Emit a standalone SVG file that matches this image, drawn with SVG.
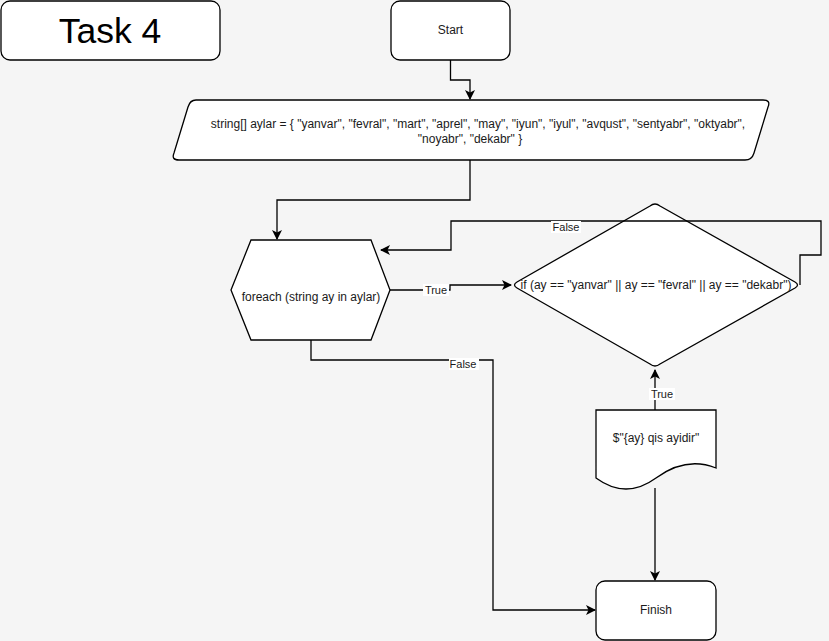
<svg xmlns="http://www.w3.org/2000/svg" width="829" height="641" viewBox="0 0 829 641">
<defs>
<marker id="arr" viewBox="0 0 10 10" refX="9" refY="5" markerWidth="10" markerHeight="10" markerUnits="userSpaceOnUse" orient="auto">
<path d="M0,0 L10,5 L0,10 L2.5,5 Z" fill="#000"/>
</marker>
</defs>
<style>
.shape{fill:#fff;stroke:#000;stroke-width:1.3}
.t{font-family:"Liberation Sans",Arial,sans-serif;font-size:12px;fill:#1a1a1a;text-anchor:middle}
.lbl{font-family:"Liberation Sans",Arial,sans-serif;font-size:11px;fill:#1a1a1a;text-anchor:middle}
.edge{fill:none;stroke:#000;stroke-width:1.3}
.lb{fill:#fff}
</style>
<rect x="0" y="0" width="829" height="641" fill="#f5f5f5"/>

<g id="title">
<rect class="shape" x="1" y="1" width="219" height="59" rx="9"/>
<text x="110" y="43" style="font-family:'Liberation Sans',Arial,sans-serif;font-size:35.5px;fill:#000;text-anchor:middle">Task 4</text>
</g>

<g id="start">
<rect class="shape" x="391" y="1" width="119" height="59" rx="9"/>
<text class="t" x="450.5" y="34">Start</text>
</g>

<g id="array">
<path class="shape" d="M196,100 H763 Q771,100 768,107 L754,153 Q752,160 745,160 H179 Q171,160 174,153 L188,107 Q190,100 196,100 Z"/>
<text class="t" x="478" y="128">string[] aylar = { "yanvar", "fevral", "mart", "aprel", "may", "iyun", "iyul", "avqust", "sentyabr", "oktyabr",</text>
<text class="t" x="470" y="143">"noyabr", "dekabr" }</text>
</g>

<g id="foreach">
<path class="shape" d="M251,240 H371 L390,290 L371,340 H251 L231,290 Z"/>
<text class="t" x="311" y="301">foreach (string ay in aylar)</text>
</g>

<g id="condition">
<path class="shape" d="M650,206 Q655,202 660,206 L795,282 Q800,285 795,288 L660,364 Q655,368 650,364 L517,288 Q512,285 517,282 Z"/>
<text class="t" x="656" y="289">if (ay == "yanvar" || ay == "fevral" || ay == "dekabr")</text>
</g>

<g id="output">
<path class="shape" d="M596,410 H716 V468 Q686,456 656,478 Q626,500 596,478 Z"/>
<text class="t" x="656" y="442">$"{ay} qis ayidir"</text>
</g>

<g id="finish">
<rect class="shape" x="596" y="581" width="120" height="59" rx="9"/>
<text class="t" x="656" y="614">Finish</text>
</g>

<g id="connectors">
<path class="edge" d="M450.5,60 V80 H470 V99" marker-end="url(#arr)"/>
<path class="edge" d="M470,160 V200 H277 V239" marker-end="url(#arr)"/>
<path class="edge" d="M390,290 H450 V285 H511" marker-end="url(#arr)"/>
<path class="edge" d="M800,285 V255 H821 V221 H451 V250 H381" marker-end="url(#arr)"/>
<path class="edge" d="M311,340 V360 H493 V610 H595" marker-end="url(#arr)"/>
<path class="edge" d="M655,410 V370" marker-end="url(#arr)"/>
<path class="edge" d="M655,488 V580" marker-end="url(#arr)"/>
<rect class="lb" x="423" y="284" width="26" height="12"/>
<text class="lbl" x="436" y="294">True</text>
<rect class="lb" x="551" y="221" width="30" height="12"/>
<text class="lbl" x="566" y="231">False</text>
<rect class="lb" x="449" y="358" width="30" height="12"/>
<text class="lbl" x="463" y="368">False</text>
<rect class="lb" x="649" y="388" width="26" height="12"/>
<text class="lbl" x="662" y="398">True</text>
</g>
</svg>
